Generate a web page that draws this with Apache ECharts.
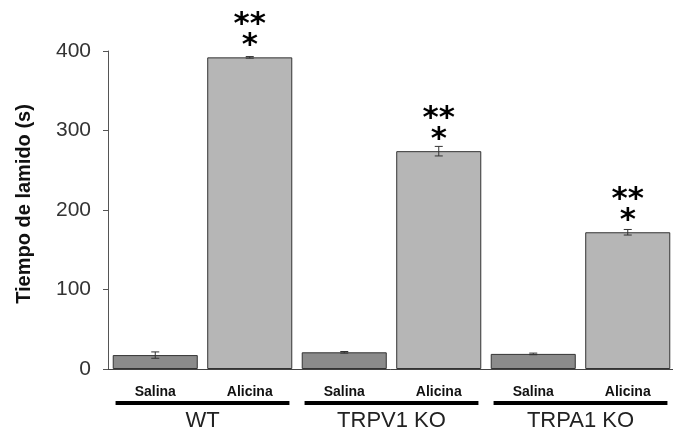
<!DOCTYPE html>
<html>
<head>
<meta charset="utf-8">
<script src="https://cdn.jsdelivr.net/npm/echarts@6/dist/echarts.min.js"></script>
<style>
html,body{margin:0;padding:0;background:#fff;}
#c{width:673px;height:434px;}
</style>
</head>
<body>
<div id="c"></div>
<script>
var categories = ['Salina', 'Alicina', 'Salina', 'Alicina', 'Salina', 'Alicina'];
var groups = ['WT', 'TRPV1 KO', 'TRPA1 KO'];
var values = [17.5, 392, 21, 274, 19, 172];
var errors = [4, 1, 1, 6, 1, 3.5];
var stars = ['', '**\n*', '', '**\n*', '', '**\n*'];
var yTicks = [0, 100, 200, 300, 400];
var groupSpans = [[0, 1], [2, 3], [4, 5]];

var FONT = '"Liberation Sans", Arial, Helvetica, sans-serif';
var chart = echarts.init(document.getElementById('c'), null, {renderer: 'canvas'});

var barData = values.map(function (v, i) {
  return {
    value: v,
    itemStyle: {color: i % 2 === 0 ? '#8b8b8b' : '#b6b6b6'},
    label: {show: stars[i] !== '', formatter: stars[i]}
  };
});
var errData = values.map(function (v, i) { return [i, v - errors[i], v + errors[i]]; });

chart.setOption({
  animation: false,
  backgroundColor: '#ffffff',
  grid: {left: 108, width: 567, top: 51, bottom: 65, containLabel: false, outerBoundsMode: 'none'},
  xAxis: [{
    type: 'category',
    data: categories,
    axisLine: {show: true, lineStyle: {color: '#444', width: 1}},
    axisTick: {show: false},
    axisLabel: {fontFamily: FONT, fontWeight: 'bold', fontSize: 14, color: '#111', margin: 16}
  }, {
    type: 'category',
    data: groups,
    position: 'bottom',
    axisLine: {show: false},
    axisTick: {show: false},
    axisLabel: {fontFamily: FONT, fontSize: 22, color: '#222', margin: 41}
  }],
  yAxis: {
    type: 'value',
    min: yTicks[0],
    max: yTicks[yTicks.length - 1],
    interval: 100,
    name: 'Tiempo de lamido (s)',
    nameLocation: 'middle',
    nameGap: 74,
    nameTextStyle: {fontFamily: FONT, fontWeight: 'bold', fontSize: 20, color: '#111', padding: [0, 0, 0, 12]},
    splitLine: {show: false},
    axisLine: {show: true, lineStyle: {color: '#555', width: 1}},
    axisTick: {show: true, length: 5, lineStyle: {color: '#555'}},
    axisLabel: {fontFamily: FONT, fontSize: 21, color: '#333', margin: 17}
  },
  series: [{
    type: 'bar',
    xAxisIndex: 0,
    data: barData,
    barWidth: '90%',
    itemStyle: {borderColor: '#333', borderWidth: 1},
    label: {
      position: 'top',
      distance: 1,
      fontFamily: '"DejaVu Sans", sans-serif',
      fontWeight: 'bold',
      fontSize: 31,
      lineHeight: 21,
      color: '#000'
    }
  }, {
    type: 'custom',
    xAxisIndex: 0,
    data: errData,
    z: 5,
    renderItem: function (params, api) {
      var x = api.value(0);
      var lo = api.coord([x, api.value(1)]);
      var hi = api.coord([x, api.value(2)]);
      var w = 4;
      var st = {stroke: '#333', lineWidth: 1};
      return {type: 'group', children: [
        {type: 'line', shape: {x1: lo[0], y1: lo[1], x2: hi[0], y2: hi[1]}, style: st},
        {type: 'line', shape: {x1: lo[0] - w, y1: lo[1], x2: lo[0] + w, y2: lo[1]}, style: st},
        {type: 'line', shape: {x1: hi[0] - w, y1: hi[1], x2: hi[0] + w, y2: hi[1]}, style: st}
      ]};
    }
  }, {
    type: 'custom',
    xAxisIndex: 0,
    clip: false,
    silent: true,
    data: groupSpans,
    renderItem: function (params, api) {
      var a = api.coord([api.value(0), 0]);
      var b = api.coord([api.value(1), 0]);
      var bw = api.size([1, 0])[0];
      var y = a[1] + 34;
      var x0 = a[0] - bw * 0.42;
      var x1 = b[0] + bw * 0.42;
      return {type: 'rect', shape: {x: x0, y: y - 2, width: x1 - x0, height: 4}, style: {fill: '#000'}};
    }
  }]
});
</script>
</body>
</html>
